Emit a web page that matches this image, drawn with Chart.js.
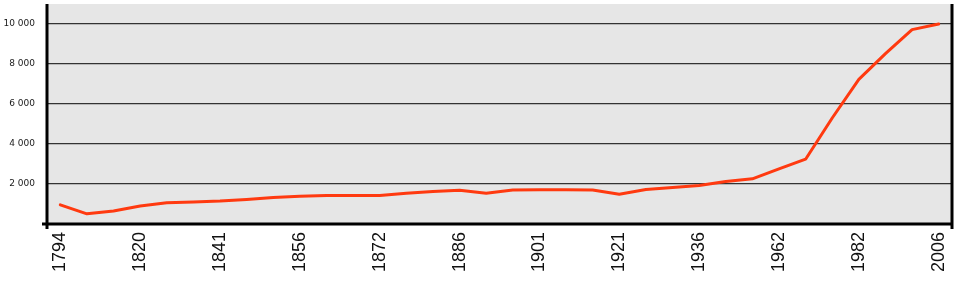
<!DOCTYPE html>
<html lang="fr">
<head>
    <meta charset="UTF-8">
    <title>Population</title>
    <script src="https://cdn.jsdelivr.net/npm/chart.js"></script>
    <style>
        html, body {
            margin: 0;
            padding: 0;
            background: #ffffff;
        }
        #wrap {
            width: 960px;
            height: 285px;
        }
    </style>
</head>
<body>
    <div id="wrap"><canvas id="popChart" width="960" height="285"></canvas></div>

    <script>
        // census years (only every 3rd one is labelled on the axis)
        const years = [1794, 1800, 1806, 1820, 1831, 1836, 1841, 1846, 1851, 1856, 1861, 1866,
                       1872, 1876, 1881, 1886, 1891, 1896, 1901, 1906, 1911, 1921, 1926, 1931,
                       1936, 1946, 1954, 1962, 1968, 1975, 1982, 1990, 1999, 2006];
        const population = [960, 510, 650, 900, 1060, 1100, 1150, 1230, 1320, 1390, 1420, 1430,
                            1430, 1540, 1630, 1690, 1540, 1700, 1710, 1710, 1700, 1490, 1720, 1830,
                            1930, 2130, 2260, 2760, 3240, 5300, 7230, 8520, 9720, 10000];
        const yTicks = [2000, 4000, 6000, 8000, 10000];

        // grey plot background + black frame
        const frame = {
            id: 'frame',
            beforeDraw(chart) {
                const { ctx, chartArea: a } = chart;
                ctx.save();
                ctx.fillStyle = '#e6e6e6';
                ctx.fillRect(a.left, a.top, a.right - a.left, a.bottom - a.top);
                ctx.restore();
            },
            beforeDatasetsDraw(chart) {
                const { ctx, chartArea: a } = chart;
                ctx.save();
                ctx.strokeStyle = '#000';
                ctx.lineWidth = 3;
                ctx.beginPath();
                ctx.moveTo(a.left, a.top);
                ctx.lineTo(a.left, a.bottom + 5);
                ctx.moveTo(a.left - 5, a.bottom);
                ctx.lineTo(a.right, a.bottom);
                ctx.moveTo(a.right, a.top);
                ctx.lineTo(a.right, a.bottom + 5);
                ctx.stroke();
                ctx.restore();
            }
        };

        const ctx = document.getElementById('popChart').getContext('2d');
        const chart = new Chart(ctx, {
            type: 'line',
            data: {
                labels: years.map(String),
                datasets: [{
                    data: population,
                    borderColor: '#ff3a10',
                    borderWidth: 3,
                    pointRadius: 0,
                    tension: 0,
                    fill: false,
                    borderJoinStyle: 'round',
                    borderCapStyle: 'round'
                }]
            },
            options: {
                responsive: false,
                animation: false,
                layout: { padding: { top: 4, right: 8, left: 0, bottom: 0 } },
                plugins: {
                    legend: { display: false },
                    tooltip: { enabled: false }
                },
                scales: {
                    x: {
                        type: 'category',
                        offset: true,
                        grid: { display: false, drawTicks: false },
                        border: { display: false },
                        afterFit(scale) {
                            scale.height = 61;
                            scale.paddingLeft = 0;
                            scale.paddingRight = 0;
                            scale.paddingTop = 0;
                            scale.paddingBottom = 0;
                        },
                        ticks: {
                            autoSkip: false,
                            minRotation: 90,
                            maxRotation: 90,
                            padding: 8,
                            color: '#111',
                            font: { family: '"Liberation Sans", Arial, sans-serif', size: 18 },
                            callback(value, index) {
                                return index % 3 === 0 ? years[index] : '';
                            }
                        }
                    },
                    y: {
                        min: 0,
                        max: 11000,
                        grid: { color: '#333', lineWidth: 1.2, drawTicks: false },
                        border: { display: false },
                        afterFit(scale) {
                            scale.width = 47;
                            scale.paddingTop = 0;
                            scale.paddingBottom = 0;
                            scale.paddingLeft = 0;
                            scale.paddingRight = 0;
                        },
                        afterBuildTicks(scale) {
                            scale.ticks = [0].concat(yTicks).map(v => ({ value: v }));
                        },
                        ticks: {
                            padding: 12,
                            color: '#1a1a1a',
                            font: { family: '"DejaVu Sans", Verdana, sans-serif', size: 9 },
                            callback(value) {
                                return value === 0 ? '' : String(value).replace(/\B(?=(\d{3})+(?!\d))/g, ' ');
                            }
                        }
                    }
                }
            },
            plugins: [frame]
        });
    </script>
</body>
</html>
